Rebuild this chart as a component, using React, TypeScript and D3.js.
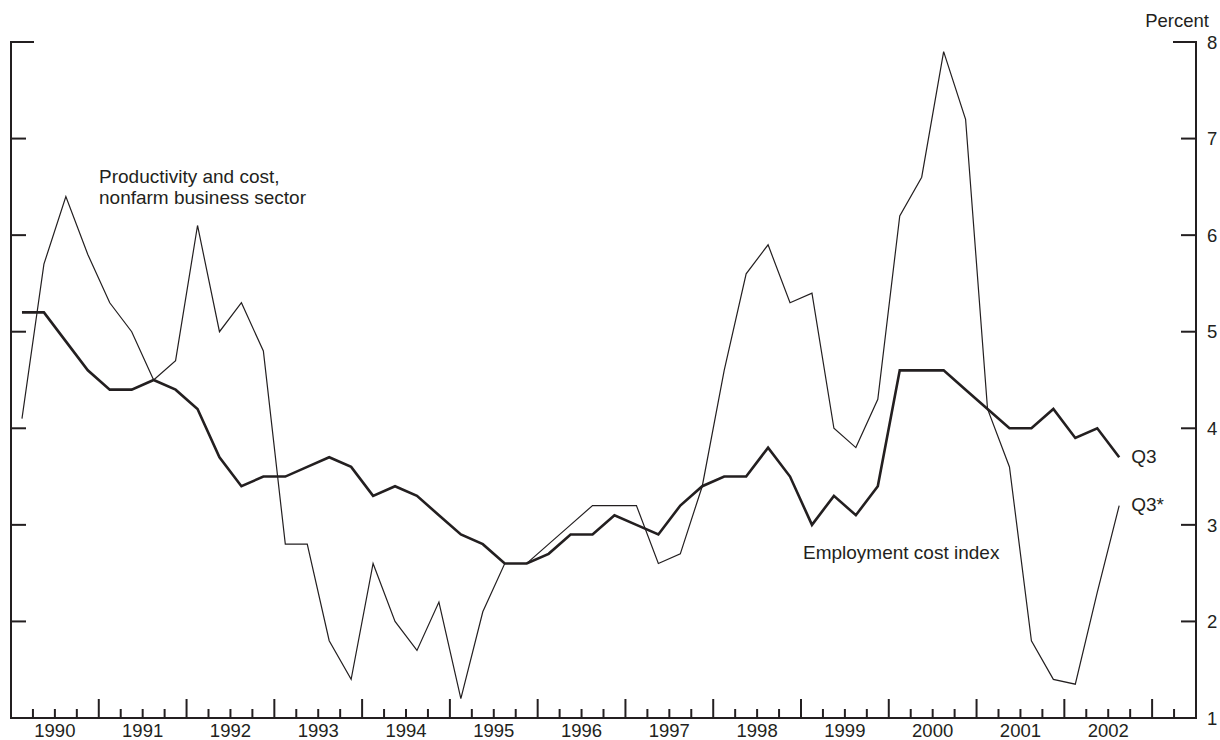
import React from "react";
import * as d3 from "d3";

// Quarterly, 1990:Q1 – 2002:Q3, percent change from year earlier
const startYear = 1990;
const eci: number[] = [
  5.2, 5.2, 4.9, 4.6, 4.4, 4.4, 4.5, 4.4, 4.2, 3.7,
  3.4, 3.5, 3.5, 3.6, 3.7, 3.6, 3.3, 3.4, 3.3, 3.1,
  2.9, 2.8, 2.6, 2.6, 2.7, 2.9, 2.9, 3.1, 3.0, 2.9,
  3.2, 3.4, 3.5, 3.5, 3.8, 3.5, 3.0, 3.3, 3.1, 3.4,
  4.6, 4.6, 4.6, 4.4, 4.2, 4.0, 4.0, 4.2, 3.9, 4.0,
  3.7,
];
const productivityCost: number[] = [
  4.1, 5.7, 6.4, 5.8, 5.3, 5.0, 4.5, 4.7, 6.1, 5.0,
  5.3, 4.8, 2.8, 2.8, 1.8, 1.4, 2.6, 2.0, 1.7, 2.2,
  1.2, 2.1, 2.6, 2.6, 2.8, 3.0, 3.2, 3.2, 3.2, 2.6,
  2.7, 3.4, 4.6, 5.6, 5.9, 5.3, 5.4, 4.0, 3.8, 4.3,
  6.2, 6.6, 7.9, 7.2, 4.2, 3.6, 1.8, 1.4, 1.35, 2.3,
  3.2,
];
const yearLabels: number[] = [1990, 1991, 1992, 1993, 1994, 1995, 1996, 1997, 1998, 1999, 2000, 2001, 2002];
const yTicks: number[] = [1, 2, 3, 4, 5, 6, 7, 8];
const xDomain: [number, number] = [1990, 2003.5];
const yDomain: [number, number] = [1, 8];

const INK = "#231f20";
const FONT = "'Liberation Sans', Arial, Helvetica, sans-serif";

export default function App() {
  const left = 11, right = 1196, top = 42, bottom = 718;
  const x = d3.scaleLinear().domain(xDomain).range([left, right]);
  const y = d3.scaleLinear().domain(yDomain).range([bottom, top]);
  const qt = (i: number) => startYear + (i + 0.5) / 4;

  const line = d3
    .line<number>()
    .x((_, i) => x(qt(i)))
    .y((d) => y(d));

  const quarterBounds = d3.range(xDomain[0] * 4 + 1, xDomain[1] * 4).map((q) => q / 4);

  const lastI = eci.length - 1;

  return (
    <svg
      width={1220}
      height={740}
      style={{ position: "absolute", left: 0, top: 0, background: "#fff" }}
      fontFamily={FONT}
    >
      {/* frame */}
      <g stroke={INK} strokeWidth={2} fill="none">
        <line x1={left} y1={top} x2={left} y2={bottom + 1} />
        <line x1={right} y1={top} x2={right} y2={bottom + 1} />
        <line x1={left - 1} y1={bottom} x2={right + 1} y2={bottom} />
        <line x1={left - 1} y1={top} x2={left + 23} y2={top} />
        <line x1={right - 23} y1={top} x2={right + 1} y2={top} />
        {yTicks
          .filter((v) => v > yDomain[0] && v < yDomain[1])
          .map((v) => (
            <g key={v}>
              <line x1={left} y1={y(v)} x2={left + 15} y2={y(v)} />
              <line x1={right - 15} y1={y(v)} x2={right} y2={y(v)} />
            </g>
          ))}
        {quarterBounds.map((t) => {
          const major = Math.abs(t - Math.round(t)) < 1e-6;
          return (
            <line key={t} x1={x(t)} y1={bottom} x2={x(t)} y2={bottom - (major ? 19 : 9)} />
          );
        })}
      </g>

      {/* y labels */}
      {yTicks.map((v) => (
        <text key={v} x={right + 11} y={y(v)} dy="0.36em" fontSize={18.5} fill={INK}>
          {v}
        </text>
      ))}
      <text x={1209} y={27} fontSize={18.5} fill={INK} textAnchor="end">
        Percent
      </text>

      {/* x labels */}
      {yearLabels.map((yr) => (
        <text key={yr} x={x(yr + 0.5)} y={737} fontSize={18.5} fill={INK} textAnchor="middle">
          {yr}
        </text>
      ))}

      {/* series */}
      <path d={line(productivityCost) || ""} fill="none" stroke={INK} strokeWidth={1.2} strokeLinejoin="miter" />
      <path d={line(eci) || ""} fill="none" stroke={INK} strokeWidth={2.6} strokeLinejoin="miter" />

      {/* annotations */}
      <text x={99} y={183} fontSize={19} fill={INK}>
        Productivity and cost,
      </text>
      <text x={99} y={204} fontSize={19} fill={INK}>
        nonfarm business sector
      </text>
      <text x={803} y={559} fontSize={19} fill={INK}>
        Employment cost index
      </text>
      <text x={x(qt(lastI)) + 12} y={y(eci[lastI]) + 6} fontSize={19} fill={INK}>
        Q3
      </text>
      <text x={x(qt(lastI)) + 12} y={y(productivityCost[lastI]) + 5} fontSize={19} fill={INK}>
        Q3*
      </text>
    </svg>
  );
}
